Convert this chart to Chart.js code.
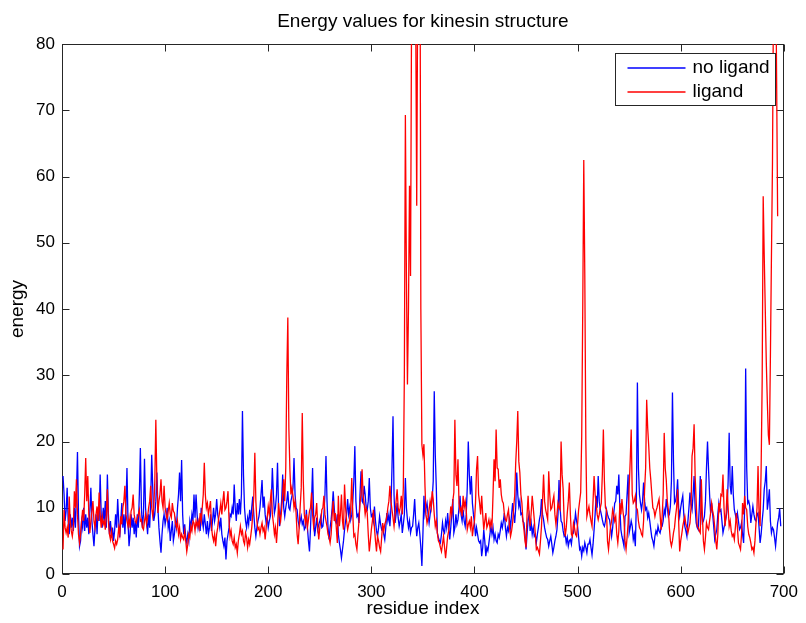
<!DOCTYPE html>
<html>
<head>
<meta charset="utf-8">
<script src="https://cdn.jsdelivr.net/npm/chart.js@4.4.1/dist/chart.umd.min.js"></script>
<style>
  html, body { margin: 0; padding: 0; background: #fff; }
</style>
</head>
<body>
<canvas id="myChart" width="806" height="623"></canvas>
<script>
// series, one value per residue (residue 1, 2, 3 ...)
const seriesNames = ['no ligand', 'ligand'];

const noLigand = [
  14.8, 12, 8, 9.5, 13, 8, 6, 9, 7, 8.5,
  6.5, 10, 7, 12, 18.4, 9, 4.2, 5, 8, 7,
  10, 6.5, 9, 7, 8.5, 6, 9.5, 13, 8, 6,
  4.2, 7, 9, 6, 10, 8, 15, 9, 7, 10,
  8, 11, 7, 15, 9, 6, 8, 5.5, 7, 5,
  6.5, 9, 7, 11.3, 8, 5.5, 8, 10.7, 7, 9,
  6, 10, 16, 8, 4.2, 6, 9, 7, 8.5, 6,
  8, 5.5, 9, 7, 12, 19, 10, 7, 9, 17.4,
  10, 8, 6, 9, 7, 11, 18, 13, 8, 9,
  11, 15.3, 10, 7, 5, 3.2, 6, 8, 9, 7.5,
  8.5, 10, 7, 8, 5, 6.5, 8, 5, 6, 8,
  7, 10, 12, 15.3, 11, 17.2, 9, 6, 7.5, 5.5,
  4.7, 6, 5, 8, 7, 9, 8, 12, 8.5, 12,
  9, 7, 8, 6.5, 10, 8, 7, 9, 7.5, 6,
  8, 6, 7, 9, 6.5, 8, 10, 8, 9, 11.3,
  9, 8, 7, 8.5, 6, 5, 4.2, 5.5, 2.2, 5,
  6, 7, 9, 8.7, 10, 9, 13.5, 10, 8, 10.7,
  9, 11.3, 9, 12, 24.6, 15, 10, 8, 7, 8.5,
  7.5, 9.7, 8, 10, 11.7, 9, 7, 5.7, 7, 8,
  8.7, 10, 12, 14.2, 10, 11.7, 9, 7.7, 8.5, 7,
  8, 8.7, 11, 16, 12, 9.2, 10, 12, 16.8, 10,
  7.2, 9, 11, 15, 10, 8.7, 10, 11, 12.5, 10,
  9.7, 11, 11.7, 13, 17.5, 12, 10, 9.7, 8, 7.2,
  8, 8.7, 7.5, 8, 6.7, 7, 9.7, 7, 5, 3.4,
  7, 11, 16, 9, 5.7, 7, 8.5, 6.7, 7.5, 8,
  8.7, 7, 7.2, 9, 12, 17.8, 11, 7, 5.2, 7,
  8.2, 10, 12.5, 10, 8, 7.7, 9, 6, 4.7, 3.7,
  2.4, 3.7, 5, 6.7, 8, 9, 11.3, 9, 10, 8.2,
  9, 11, 14, 19.3, 11, 8.7, 9, 7.7, 12, 15.5,
  11, 10.7, 13.3, 12, 10, 9.7, 11, 14.5, 10, 8.7,
  9, 8, 10.2, 8, 6.5, 5.7, 7, 8.7, 7.5, 6.7,
  7, 6, 5.2, 7, 9.2, 8, 9, 7.2, 10, 16,
  23.8, 12, 7.7, 9, 10.7, 8.5, 7.2, 8, 9, 6.2,
  7.5, 9, 14.5, 10, 8.2, 7, 8, 6.2, 7, 7.2,
  9, 11.3, 8, 5.7, 7, 7.7, 6, 4, 1.2, 6,
  11.8, 9, 10, 10.7, 9, 7.7, 9, 10, 11.3, 14,
  27.6, 18, 13, 6.2, 5.5, 5, 4.7, 6, 7.7, 6.5,
  6.2, 8, 7, 9.2, 7, 5.2, 7, 9, 11.3, 6.2,
  7, 9, 7.5, 8.2, 10, 11.8, 9, 8, 9.7, 8,
  7.2, 9, 13, 20, 15, 12, 14.8, 10.7, 9, 7.7,
  5.7, 7, 6, 5, 4.7, 5, 2.7, 4, 6.7, 5,
  2.7, 4, 3.5, 4.7, 6, 7.2, 6, 7, 5.2, 6,
  5, 4.7, 6, 5.5, 6.5, 7.7, 7, 8, 9.2, 7,
  5.7, 7, 6.5, 8.2, 7, 9, 10.7, 9, 7.7, 10,
  15.3, 12, 10.2, 11, 9, 9.2, 8, 7.7, 6, 3.7,
  6, 8.2, 9, 6.5, 7.7, 6, 7, 5.7, 6, 4.7,
  6, 7, 8.2, 9, 11.3, 9, 8.2, 7, 6.2, 5.5,
  5.2, 4.2, 5, 5.7, 4.5, 3.2, 4, 5, 5.7, 6.7,
  9, 14.2, 10, 8, 7.7, 6.5, 5.7, 6, 4.7, 5.5,
  4.2, 5, 5.2, 4.5, 6, 6.2, 7.5, 9.2, 8, 7.2,
  5.5, 3.7, 4, 2.7, 4, 3.5, 4.7, 4, 3.2, 4.5,
  4.5, 5.2, 4, 2.9, 4.5, 6.7, 9, 11.8, 10, 14.8,
  11, 9.7, 9, 8.2, 7.5, 7.2, 8, 9.7, 9, 8.5,
  8.2, 7, 5.7, 7, 9, 10.7, 11, 13.3, 12, 15,
  10, 6.7, 5.7, 5, 4.2, 8.7, 9, 12, 15, 6.2,
  7, 8, 7.2, 5.2, 6, 4.2, 10.7, 28.9, 16, 12,
  10.7, 9.7, 11, 13.8, 11, 9.7, 10, 8.5, 9.2, 8,
  6.7, 5.5, 5, 4.2, 5.7, 6.5, 6, 7.2, 6.5, 6.2,
  7, 7.2, 8, 9.7, 9, 11.3, 10, 8.7, 9, 10.2,
  14, 27.4, 17, 10.7, 11, 12, 14.3, 10, 8.7, 10,
  11, 11.8, 9, 7.2, 6.5, 5.7, 8, 10, 12.3, 10.5,
  9.7, 12, 14.8, 10, 7.7, 7, 6.7, 10, 14.8, 10,
  7.7, 8, 8.7, 11, 16, 20, 15.8, 12, 9.2, 10.7,
  9, 7.2, 5.2, 6, 6.7, 9, 10.7, 9.5, 9.7, 8,
  6.2, 7, 7.7, 8.5, 9.7, 14, 21.3, 13.3, 12, 16.3,
  12, 9.7, 9, 8.2, 9.2, 8, 6.7, 7, 7.7, 6,
  4.7, 10, 31, 16, 10.7, 11, 10.2, 7.7, 9, 10.2,
  9, 8.2, 8, 9, 9.2, 7, 4.7, 6, 8, 9.7,
  12.8, 14, 16.3, 9.7, 11, 12.8, 8, 6.2, 7, 6.7,
  5.5, 4.2, 6, 7.7, 8.5, 9.9, 7.2
];

const ligand = [
  3.7, 9.7, 7, 6.2, 7, 5.5, 11.7, 8, 6.5, 5.7,
  7, 12.5, 10, 14.3, 9, 6, 4.7, 6, 8, 9.7,
  8, 12, 17.5, 11, 14.8, 9, 6.2, 8, 9.5, 11,
  8, 7, 9, 10.2, 8, 12.3, 9, 7, 8.7, 7.5,
  8, 6.7, 9, 12.8, 8, 6, 5.2, 6.5, 5, 4.5,
  3.9, 5, 4.5, 5.2, 7, 6, 8.7, 7.5, 10, 11,
  13.3, 9, 8, 7.2, 8.5, 7, 9.5, 10, 12, 9,
  8, 7.7, 8.5, 9, 9.7, 8, 8.2, 7, 6.7, 8,
  9, 7.5, 8.5, 10, 11, 13.3, 10, 8.7, 10, 14,
  23.3, 14, 9.2, 11, 12, 14.3, 11, 10, 13.3, 10,
  9, 8.2, 9.5, 10.7, 9, 8.5, 10.7, 9.5, 9.2, 7.7,
  7, 8, 6, 7, 5.2, 6, 5.5, 5.2, 6.5, 5,
  3.4, 4.5, 6, 5.5, 7.2, 6.5, 8, 7.7, 6.5, 8,
  7.2, 8, 7, 9.2, 8, 10, 12, 16.8, 12, 10,
  10.7, 9, 10, 11, 7, 5.7, 5, 6, 4.2, 6,
  7, 8.5, 9.5, 10.7, 9, 11, 12.5, 9.7, 10, 11,
  12.5, 8, 5.7, 6.5, 5, 4.5, 5.5, 4, 4.5, 3.2,
  5, 6, 7.2, 6, 6.5, 5, 4.5, 6.2, 5.5, 4,
  5.2, 4.5, 5.7, 7, 9, 11.8, 18.3, 11, 8, 6.7,
  7, 6, 7, 7.7, 6.5, 7, 5.2, 7, 8.5, 10.2,
  9, 11, 12.8, 9, 7.7, 6, 7, 4.7, 7, 10.7,
  9, 8, 9.7, 12, 14.3, 11, 16, 30, 38.7, 22,
  15.8, 12, 13, 11.8, 10, 11, 9.2, 6, 4.5, 7,
  10.2, 13, 24.3, 14, 9, 7.7, 9, 7, 8.2, 9.5,
  10, 12.3, 9, 7.2, 8.5, 9, 10.7, 7, 5.2, 7,
  8, 9.7, 10, 11.8, 9, 8, 7.2, 6, 5.5, 4.7,
  6, 9, 11, 8, 9.2, 7, 4.7, 11.8, 7.2, 9,
  12, 8, 6.7, 13.5, 10, 8, 6.7, 7.5, 8.2, 10,
  14.5, 9, 5.7, 6, 4.5, 3.7, 6, 8, 10.7, 12,
  15.8, 12, 10.7, 9, 10, 9.2, 6, 3.4, 5, 6.7,
  8, 9.7, 7, 5, 3.4, 5.7, 5, 4, 3.4, 5.5,
  7.7, 6.5, 7.5, 8, 8.7, 10, 11, 13.3, 11, 9.7,
  8.5, 7.2, 9, 11, 12.8, 10, 9.2, 10, 11.8, 9,
  13, 30, 69.3, 45, 28.6, 40, 58.6, 45, 85, 110,
  115, 100, 85, 55.6, 90, 115, 110, 40, 19.5, 18,
  19.6, 13.3, 9, 7.7, 8.5, 9.7, 11, 10, 12.5, 11.3,
  9, 7.2, 8, 6.2, 5, 4.7, 4, 3.4, 4.5, 5.7,
  4, 2.4, 4, 5.7, 6.5, 8, 10.2, 9, 11, 12.3,
  23.3, 15, 13.3, 17.3, 10.7, 9.5, 10, 8.7, 11.8, 10,
  11, 9.7, 6.7, 7.5, 8, 7, 8.7, 5.7, 7, 8,
  10.7, 15.8, 17.8, 12, 10.7, 9, 11.8, 9, 6.7, 8,
  9.2, 7, 7.5, 8.2, 7, 8, 7.2, 12, 17.3, 14,
  21.8, 16, 15.8, 13, 14.3, 12, 11, 10.7, 9, 8.2,
  8, 9, 9.7, 7, 5.7, 6.5, 7.7, 10, 11.8, 16.8,
  20, 24.6, 17, 15.3, 12, 10.7, 8, 6.7, 5, 4,
  9, 11.8, 8.7, 7.2, 9.2, 11.8, 10, 8.2, 6, 3.7,
  4, 3.5, 3, 5, 7.2, 11, 15, 11, 9.7, 9,
  8.2, 15.5, 12, 9.7, 10, 11, 11.8, 9, 7.5, 9,
  10.7, 10, 9.7, 20, 15, 12.8, 8, 5.7, 7, 9.2,
  11, 13.8, 9, 6, 5.7, 7.7, 7, 6, 5.7, 7.5,
  9.7, 11, 12.3, 20.8, 40, 62.5, 45, 20, 8.7, 9.5,
  10.2, 9, 8, 7.2, 11, 14.8, 12, 10.7, 9, 8.2,
  9, 10, 10.7, 15, 21.8, 14, 10, 9.7, 5, 3.7,
  5.5, 7.2, 8, 9.7, 9, 8, 8.7, 6, 4.7, 6.5,
  10.7, 9, 11.3, 9.5, 8.2, 5, 3.7, 5.5, 7.7, 13,
  17, 21.8, 12, 10.7, 11, 11.8, 10, 9.7, 8, 7,
  6.7, 6, 5.7, 8, 12.8, 16, 26.3, 22, 19.3, 16,
  14.2, 12, 10, 9.7, 8.7, 9.5, 10, 10.7, 11.3, 9,
  6.7, 8.7, 12, 21.3, 16, 14.2, 11, 9.7, 7, 5,
  4.2, 5, 6.2, 7, 8.7, 10, 12.8, 8, 3.4, 5,
  6, 7.2, 8, 8.7, 7.5, 7, 6.2, 7, 7.7, 10,
  17.8, 19, 22.6, 14.8, 11, 7.2, 7, 6.5, 6.2, 14.3,
  9, 5, 3.7, 5.5, 7.7, 7, 6.7, 8, 9.2, 10.7,
  9.5, 8.7, 7, 5, 3.7, 6, 10.7, 9.7, 12, 11.8,
  15, 10, 7.2, 9, 12.8, 10, 7.2, 8, 6.5, 5.7,
  6, 5.2, 7, 9.2, 7, 4.7, 4.2, 3.7, 6, 10.7,
  9, 11.8, 10, 9.7, 7.2, 6, 5.5, 4.7, 3.7, 4,
  3.2, 5, 7.7, 10, 16.3, 9, 7.2, 16, 29, 57,
  48, 40, 32, 26, 21, 19.5, 33, 48, 62, 88,
  100, 95, 75, 54
];

const xTicks = [0, 100, 200, 300, 400, 500, 600, 700];
const yTicks = [0, 10, 20, 30, 40, 50, 60, 70, 80];

const FONT = "'Liberation Sans', Arial, Helvetica, sans-serif";
const AXIS_COLOR = '#262626';

const toPoints = (values) => values.map((v, i) => ({ x: i + 1, y: v }));

// title, box with inward ticks, legend
const matlabFrame = {
  id: 'matlabFrame',
  beforeDatasetsDraw(chart) {
    const { ctx, chartArea: { left, right, top, bottom }, scales: { x, y } } = chart;
    const L = Math.round(left) + 0.5, R = Math.round(right) - 0.5;
    const T = Math.round(top) + 0.5, B = Math.round(bottom) - 0.5;
    const tick = 7;
    ctx.save();
    ctx.strokeStyle = AXIS_COLOR;
    ctx.lineWidth = 1;
    ctx.strokeRect(L, T, R - L, B - T);
    ctx.beginPath();
    xTicks.forEach(v => {
      const px = Math.round(x.getPixelForValue(v)) + 0.5;
      ctx.moveTo(px, B); ctx.lineTo(px, B - tick);
      ctx.moveTo(px, T); ctx.lineTo(px, T + tick);
    });
    yTicks.forEach(v => {
      const py = Math.round(y.getPixelForValue(v)) + 0.5;
      ctx.moveTo(L, py); ctx.lineTo(L + tick, py);
      ctx.moveTo(R, py); ctx.lineTo(R - tick, py);
    });
    ctx.stroke();
    ctx.restore();
  },
  afterDraw(chart) {
    const { ctx, chartArea: { left, right, top } } = chart;
    ctx.save();
    // title
    ctx.fillStyle = '#000';
    ctx.font = '19px ' + FONT;
    ctx.textAlign = 'center';
    ctx.textBaseline = 'middle';
    ctx.fillText('Energy values for kinesin structure', (left + right) / 2, 22);

    // legend
    const bx = Math.round(right) - 168.5, by = Math.round(top) + 9.5;
    const bw = 160, bh = 52;
    ctx.fillStyle = '#fff';
    ctx.fillRect(bx, by, bw, bh);
    ctx.strokeStyle = AXIS_COLOR;
    ctx.lineWidth = 1;
    ctx.strokeRect(bx, by, bw, bh);
    chart.data.datasets.slice().sort((a, b) => seriesNames.indexOf(a.label) - seriesNames.indexOf(b.label))
      .forEach((ds, i) => {
        const ly = Math.round(by + 14 + i * 24);
        ctx.strokeStyle = ds.borderColor;
        ctx.lineWidth = ds.borderWidth;
        ctx.beginPath();
        ctx.moveTo(bx + 12, ly);
        ctx.lineTo(bx + 70, ly);
        ctx.stroke();
        ctx.fillStyle = '#000';
        ctx.textAlign = 'left';
        ctx.font = '19px ' + FONT;
        ctx.fillText(ds.label, bx + 77, ly);
      });
    ctx.restore();
  }
};

const config = {
  type: 'line',
  data: {
    datasets: [
      {
        label: seriesNames[0],
        data: toPoints(noLigand),
        borderColor: '#0000ff',
        borderWidth: 1.3,
        pointRadius: 0,
        tension: 0,
        order: 1
      },
      {
        label: seriesNames[1],
        data: toPoints(ligand),
        borderColor: '#ff0000',
        borderWidth: 1.3,
        pointRadius: 0,
        tension: 0,
        order: 0
      }
    ]
  },
  options: {
    responsive: false,
    animation: false,
    events: [],
    layout: { padding: { left: 0, right: 18, top: 44, bottom: 0 } },
    plugins: {
      legend: { display: false },
      title: { display: false },
      tooltip: { enabled: false }
    },
    scales: {
      x: {
        type: 'linear',
        min: 0,
        max: 700,
        afterBuildTicks: (s) => { s.ticks = xTicks.map(v => ({ value: v })); },
        afterFit: (s) => { s.height = 49; },
        grid: { display: false, drawTicks: false },
        border: { display: false },
        ticks: { padding: 8, color: '#000', maxRotation: 0, autoSkip: false, font: { size: 17, family: FONT } },
        title: { display: true, text: 'residue index', color: '#000', font: { size: 19, family: FONT }, padding: { top: 0, bottom: 3 } }
      },
      y: {
        type: 'linear',
        min: 0,
        max: 80,
        afterBuildTicks: (s) => { s.ticks = yTicks.map(v => ({ value: v })); },
        afterFit: (s) => { s.width = 62; },
        grid: { display: false, drawTicks: false },
        border: { display: false },
        ticks: { padding: 7, color: '#000', autoSkip: false, font: { size: 17, family: FONT } },
        title: { display: true, text: 'energy', color: '#000', font: { size: 19, family: FONT }, padding: { top: 6, bottom: 0 } }
      }
    }
  },
  plugins: [matlabFrame]
};

const myChart = new Chart(document.getElementById('myChart'), config);
</script>
</body>
</html>
